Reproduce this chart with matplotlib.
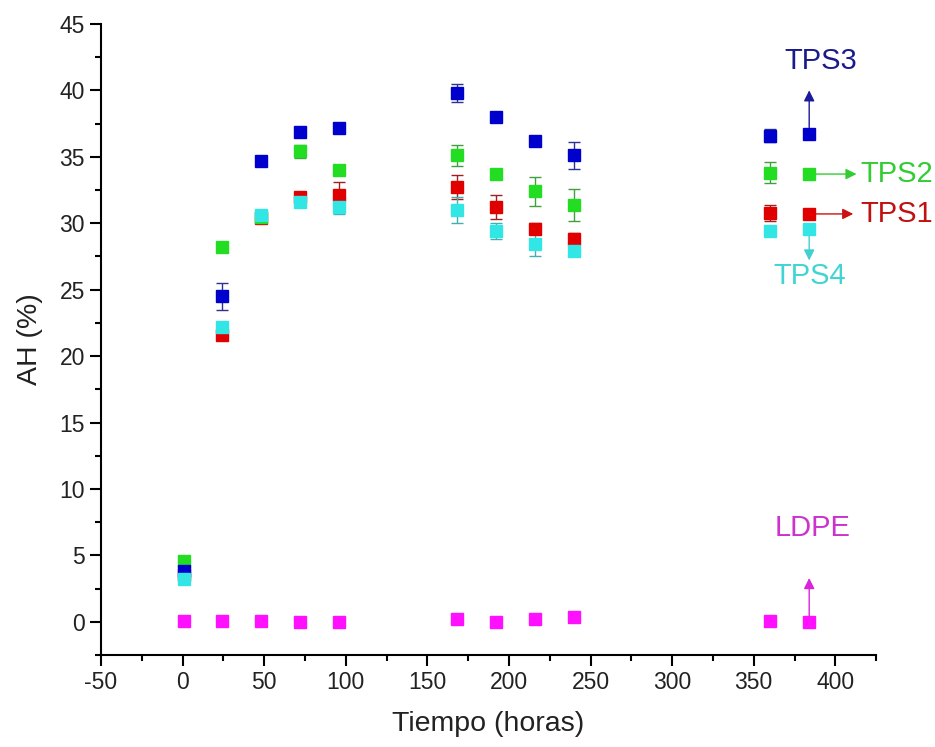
import numpy as np
import matplotlib.pyplot as plt
from matplotlib.ticker import MultipleLocator

plt.rcParams['font.family'] = ['Liberation Sans', 'DejaVu Sans']
plt.rcParams['axes.unicode_minus'] = False

# tiempo (horas)
t = [1, 24, 48, 72, 96, 168, 192, 216, 240, 360, 384]

tps1 = [3.5, 21.6, 30.4, 32.0, 32.1, 32.7, 31.2, 29.6, 28.8, 30.8, 30.7]
tps1_err = [0.3, 0.2, 0.3, 0.2, 1.0, 0.9, 0.9, 0.4, 0.5, 0.6, 0.0]

tps2 = [4.6, 28.2, 30.5, 35.4, 34.0, 35.1, 33.7, 32.4, 31.4, 33.8, 33.7]
tps2_err = [0.2, 0.2, 0.3, 0.5, 0.3, 0.8, 0.3, 1.1, 1.2, 0.8, 0.0]

tps3 = [3.85, 24.5, 34.7, 36.9, 37.2, 39.8, 38.0, 36.2, 35.1, 36.6, 36.7]
tps3_err = [0.2, 1.0, 0.2, 0.2, 0.2, 0.7, 0.2, 0.3, 1.0, 0.5, 0.0]

tps4 = [3.25, 22.2, 30.6, 31.6, 31.2, 31.0, 29.4, 28.4, 27.9, 29.4, 29.6]
tps4_err = [0.4, 0.3, 0.3, 0.3, 0.5, 1.0, 0.6, 0.9, 0.3, 0.3, 0.0]

ldpe = [0.05, 0.1, 0.1, 0.0, 0.0, 0.2, 0.0, 0.2, 0.4, 0.1, 0.0]

fig = plt.figure(figsize=(9.35, 7.47), dpi=100)
ax = fig.add_axes([0.108, 0.123, 0.829, 0.845])

series = [
    (tps1, tps1_err, '#e00000', '#a02020'),
    (tps2, tps2_err, '#22dd22', '#40a040'),
    (tps3, tps3_err, '#0000cc', '#303090'),
    (tps4, tps4_err, '#33e6e6', '#40b0b0'),
]
for y, e, c, ec in series:
    ax.errorbar(t, y, yerr=e, fmt='s', color=c, ms=8.5, mec=c,
                ecolor=ec, elinewidth=1, capsize=4, capthick=1, zorder=3)
ax.plot(t, ldpe, 's', color='#ff10ff', ms=8.5, zorder=3)

# arrows + labels at the last point
def arrow(x0, y0, x1, y1, c):
    ax.annotate('', xy=(x1, y1), xytext=(x0, y0),
                arrowprops=dict(arrowstyle='-|>', color=c, lw=1,
                                mutation_scale=16, shrinkA=0, shrinkB=0),
                annotation_clip=False)

arrow(t[-1], tps3[-1] + 0.5, t[-1], 40.0, '#1a1a9a')
ax.text(391, 42.2, 'TPS3', color='#1a1a8c', fontsize=21, ha='center', va='center')

arrow(t[-1] + 3, tps2[-1], 413, tps2[-1], '#33cc33')
ax.text(415.5, tps2[-1], 'TPS2', color='#33cc33', fontsize=21, ha='left', va='center',
        clip_on=False)

arrow(t[-1] + 3, tps1[-1], 411, tps1[-1], '#cc1111')
ax.text(415.5, tps1[-1], 'TPS1', color='#c01010', fontsize=21, ha='left', va='center',
        clip_on=False)

arrow(t[-1], tps4[-1] - 0.45, t[-1], 27.2, '#40d0d0')
ax.text(384.5, 26.0, 'TPS4', color='#40d4d4', fontsize=21, ha='center', va='center')

arrow(t[-1], ldpe[-1] + 0.45, t[-1], 3.3, '#dd22dd')
ax.text(386, 7.1, 'LDPE', color='#cc33cc', fontsize=21, ha='center', va='center')

ax.set_xlim(-50, 425)
ax.set_ylim(-2.5, 45)
ax.xaxis.set_major_locator(MultipleLocator(50))
ax.xaxis.set_minor_locator(MultipleLocator(25))
ax.yaxis.set_major_locator(MultipleLocator(5))
ax.yaxis.set_minor_locator(MultipleLocator(2.5))
ax.spines['top'].set_visible(False)
ax.spines['right'].set_visible(False)
for s in ['left', 'bottom']:
    ax.spines[s].set_linewidth(1.5)
ax.tick_params(which='major', direction='out', length=8, width=1.5, labelsize=16.5,
               labelcolor='#222222')
ax.tick_params(which='minor', direction='out', length=4, width=1.5)
ax.set_xlabel('Tiempo (horas)', fontsize=20.5, color='#222222', labelpad=12)
ax.set_ylabel('AH (%)', fontsize=20.5, color='#222222', labelpad=12)

fig.savefig('out.png', dpi=100)
